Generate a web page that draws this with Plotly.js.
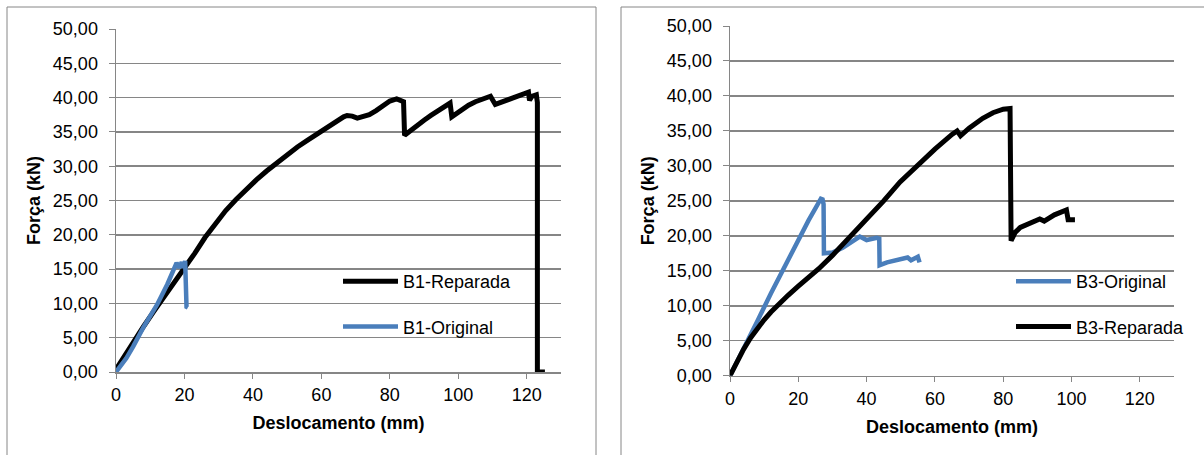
<!DOCTYPE html>
<html><head><meta charset="utf-8">
<script src="https://cdn.plot.ly/plotly-3.0.1.min.js"></script>
<style>html,body{margin:0;padding:0;background:#fff;}#chart{width:1204px;height:455px;}</style>
</head><body><div id="chart"></div>
<script>
// B1 panel data
const b1RepX = [0,2,5,8,11,14,17,20,23,26,29,32,35,38,41,44,47,50,53,56,59,62,65,66.5,67.5,69,70.5,72,74,76,78,80,82,83.3,84,84.3,86,88,90,92,94,96,97.6,98.1,99,101,103,105,107,109.4,110.8,113,115,117,119,120.5,120.8,121.5,122.8,123.1,123.1,125.3];
const b1RepY = [0.4,2.0,4.3,6.6,8.8,10.9,13.0,15.0,17.3,19.6,21.7,23.5,25.1,26.6,28.0,29.3,30.5,31.7,32.8,33.8,34.8,35.6,36.6,37.2,37.4,37.3,37.0,37.2,37.5,38.1,38.8,39.5,39.8,39.6,39.4,34.5,35.2,36.0,36.7,37.4,38.0,38.6,39.2,37.2,37.5,38.3,38.9,39.4,39.8,40.2,39.0,39.4,39.8,40.1,40.4,40.8,39.6,40.2,40.4,39.3,0,0];
const b1OrigX = [0,3,5,8,12,15,17.7,18.5,19.2,19.8,20.2,20.4,20.5,20.6,21];
const b1OrigY = [0,2,3.7,6.5,9.8,12.8,15.9,15.2,16,15.2,16.2,14,12,9.5,9.4];
// B3 panel data
const b3OrigX = [0,4,8,12,16,20,23,24.5,25.7,26.6,27.1,27.4,27.5,30,33,36,38,40,43,43.7,43.8,46,50,52,53,55,55.5];
const b3OrigY = [0,3.8,7.8,11.8,15.7,19.3,22.2,23.5,24.5,25.3,25.2,24.5,17.5,17.6,18.3,19.3,19.9,19.4,19.7,19.6,15.8,16.2,16.6,16.9,16.5,17,16.2];
const b3RepX = [0,2,4,6,8,10,12,14,17,20,23,26,30,35,40,45,49.8,55,60,65,66.5,67.5,70,74,77,80,82,82.3,83.5,85,88,90.7,92,95,98.5,99,101];
const b3RepY = [0,2,3.8,5.4,6.8,8,9.1,10.1,11.5,12.8,14,15.3,17.2,19.8,22.3,25,27.7,30.2,32.4,34.5,35,34.3,35.4,36.8,37.6,38.1,38.2,19.3,20.5,21.2,21.8,22.4,22.1,23,23.7,22.3,22.3];
const xTicks = [0,20,40,60,80,100,120];
const yTicks = [0,5,10,15,20,25,30,35,40,45,50];
const names = {b1Rep:'B1-Reparada', b1Orig:'B1-Original', b3Orig:'B3-Original', b3Rep:'B3-Reparada'};

const BLUE = '#4a7ebb', BLACK = '#000000', GRID = '#868686';
const font = {family:'"Liberation Sans", Arial, sans-serif', size:18, color:'#000'};

const traces = [
  {x:b1RepX, y:b1RepY, name:names.b1Rep, mode:'lines', line:{color:BLACK, width:5}, xaxis:'x', yaxis:'y', legend:'legend', legendgroup:'a'},
  {x:b1OrigX, y:b1OrigY, name:names.b1Orig, mode:'lines', line:{color:BLUE, width:4.5}, xaxis:'x', yaxis:'y', legend:'legend', legendgroup:'b'},
  {x:b3OrigX, y:b3OrigY, name:names.b3Orig, mode:'lines', line:{color:BLUE, width:4.5}, xaxis:'x2', yaxis:'y2', legend:'legend2', legendgroup:'c'},
  {x:b3RepX, y:b3RepY, name:names.b3Rep, mode:'lines', line:{color:BLACK, width:5}, xaxis:'x2', yaxis:'y2', legend:'legend2', legendgroup:'d'}
];

function xax(domain, anchor){
  return {domain:domain, anchor:anchor, range:[0,130], tickvals:xTicks, ticktext:xTicks.map(String),
    showgrid:false, zeroline:false, showline:true, linecolor:GRID, linewidth:1.5,
    ticks:'outside', ticklen:5, tickcolor:GRID, tickfont:font, ticklabelstandoff:1,
    title:{text:'<b>Deslocamento (mm)</b>', font:font, standoff:12}};
}
function yax(domain, anchor){
  return {domain:domain, anchor:anchor, range:[0,50], tickvals:yTicks, tickformat:'.2f',
    showgrid:true, gridcolor:GRID, gridwidth:1.5, zeroline:false, showline:true, linecolor:GRID, linewidth:1.5,
    ticks:'outside', ticklen:6, tickcolor:GRID, tickfont:font, ticklabelstandoff:7,
    title:{text:'<b>Força (kN)</b>', font:font, standoff:7}};
}
const legendBase = {bgcolor:'rgba(0,0,0,0)', borderwidth:0, font:font, itemwidth:55, tracegroupgap:19, traceorder:'grouped', xanchor:'left', yanchor:'top'};

const layout = {
  width:1204, height:455, margin:{l:0,r:0,t:0,b:0}, separators:',.',
  paper_bgcolor:'#fff', plot_bgcolor:'#fff', font:font, showlegend:true,
  xaxis:xax([116/1204, 561/1204], 'y'),
  yaxis:yax([(455-372)/455, (455-29)/455], 'x'),
  xaxis2:xax([730/1204, 1174/1204], 'y2'),
  yaxis2:yax([(455-375.7)/455, (455-26)/455], 'x2'),
  legend:Object.assign({}, legendBase, {x:338/1204, y:(455-263)/455}),
  legend2:Object.assign({}, legendBase, {x:1011/1204, y:(455-263)/455}),
  shapes:[
    {type:'rect', xref:'paper', yref:'paper', x0:7/1204, x1:596/1204, y0:-0.1, y1:(455-7)/455, line:{color:GRID, width:1}},
    {type:'rect', xref:'paper', yref:'paper', x0:621/1204, x1:1.1, y0:-0.1, y1:(455-7)/455, line:{color:GRID, width:1}}
  ]
};
Plotly.newPlot('chart', traces, layout, {staticPlot:true, displayModeBar:false});
</script></body></html>
